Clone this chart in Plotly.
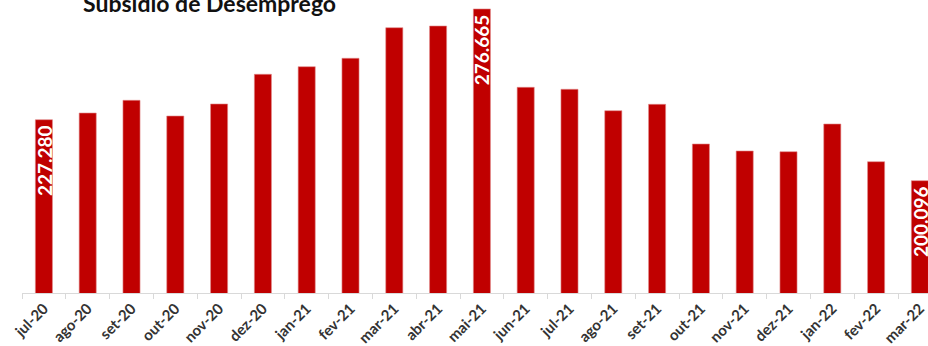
import plotly.graph_objects as go

# Monthly beneficiaries of unemployment benefit
months = ["jul-20", "ago-20", "set-20", "out-20", "nov-20", "dez-20",
          "jan-21", "fev-21", "mar-21", "abr-21", "mai-21", "jun-21",
          "jul-21", "ago-21", "set-21", "out-21", "nov-21", "dez-21",
          "jan-22", "fev-22", "mar-22"]
beneficiaries = [227280, 230270, 235930, 228930, 234290, 247530,
                 250920, 254670, 268310, 269070, 276665, 241730,
                 240840, 231300, 234150, 216450, 213330, 213010,
                 225370, 208550, 200096]
# Months whose value is written on the bar
labelled = ["jul-20", "mai-21", "mar-22"]

BAR_RED = "#C00000"
FONT = "Lato, 'Open Sans', sans-serif"


def pt_format(v):
    return f"{v:,}".replace(",", ".")


fig = go.Figure(
    go.Bar(
        x=months,
        y=beneficiaries,
        width=0.39,
        marker=dict(color=BAR_RED, line=dict(width=0.6, color="#e08a8a")),
        hoverinfo="x+y",
    )
)

for m, v in zip(months, beneficiaries):
    if m in labelled:
        fig.add_annotation(
            x=m, y=v, xref="x", yref="y",
            text=pt_format(v), textangle=-90,
            showarrow=False, yanchor="top", yshift=-3,
            font=dict(family=FONT, size=19, color="white", weight="bold"),
        )

fig.add_annotation(
    text="Subsídio de Desemprego",
    xref="paper", yref="paper", x=0.2075, y=1,
    xanchor="center", yanchor="top", yshift=13,
    showarrow=False,
    font=dict(family=FONT, size=23, color="#111111", weight="bold"),
)

fig.update_layout(
    width=928, height=346,
    margin=dict(l=22, r=0, t=0, b=53, autoexpand=False),
    paper_bgcolor="white", plot_bgcolor="white",
    showlegend=False,
    bargap=0.61,
)

fig.update_xaxes(
    type="category",
    range=[-0.5, 20.185],
    automargin=False,
    showline=True, linecolor="#d9d9d9", linewidth=1,
    ticks="outside", ticklen=5, tickcolor="#d9d9d9",
    tickson="boundaries",
    tickangle=-45,
    tickfont=dict(family=FONT, size=15, color="#333333", weight="bold"),
    showgrid=False, zeroline=False,
)

fig.update_yaxes(
    range=[150000, 280660],
    automargin=False,
    visible=False, showgrid=False, zeroline=False,
)

fig.write_html("out.html")
